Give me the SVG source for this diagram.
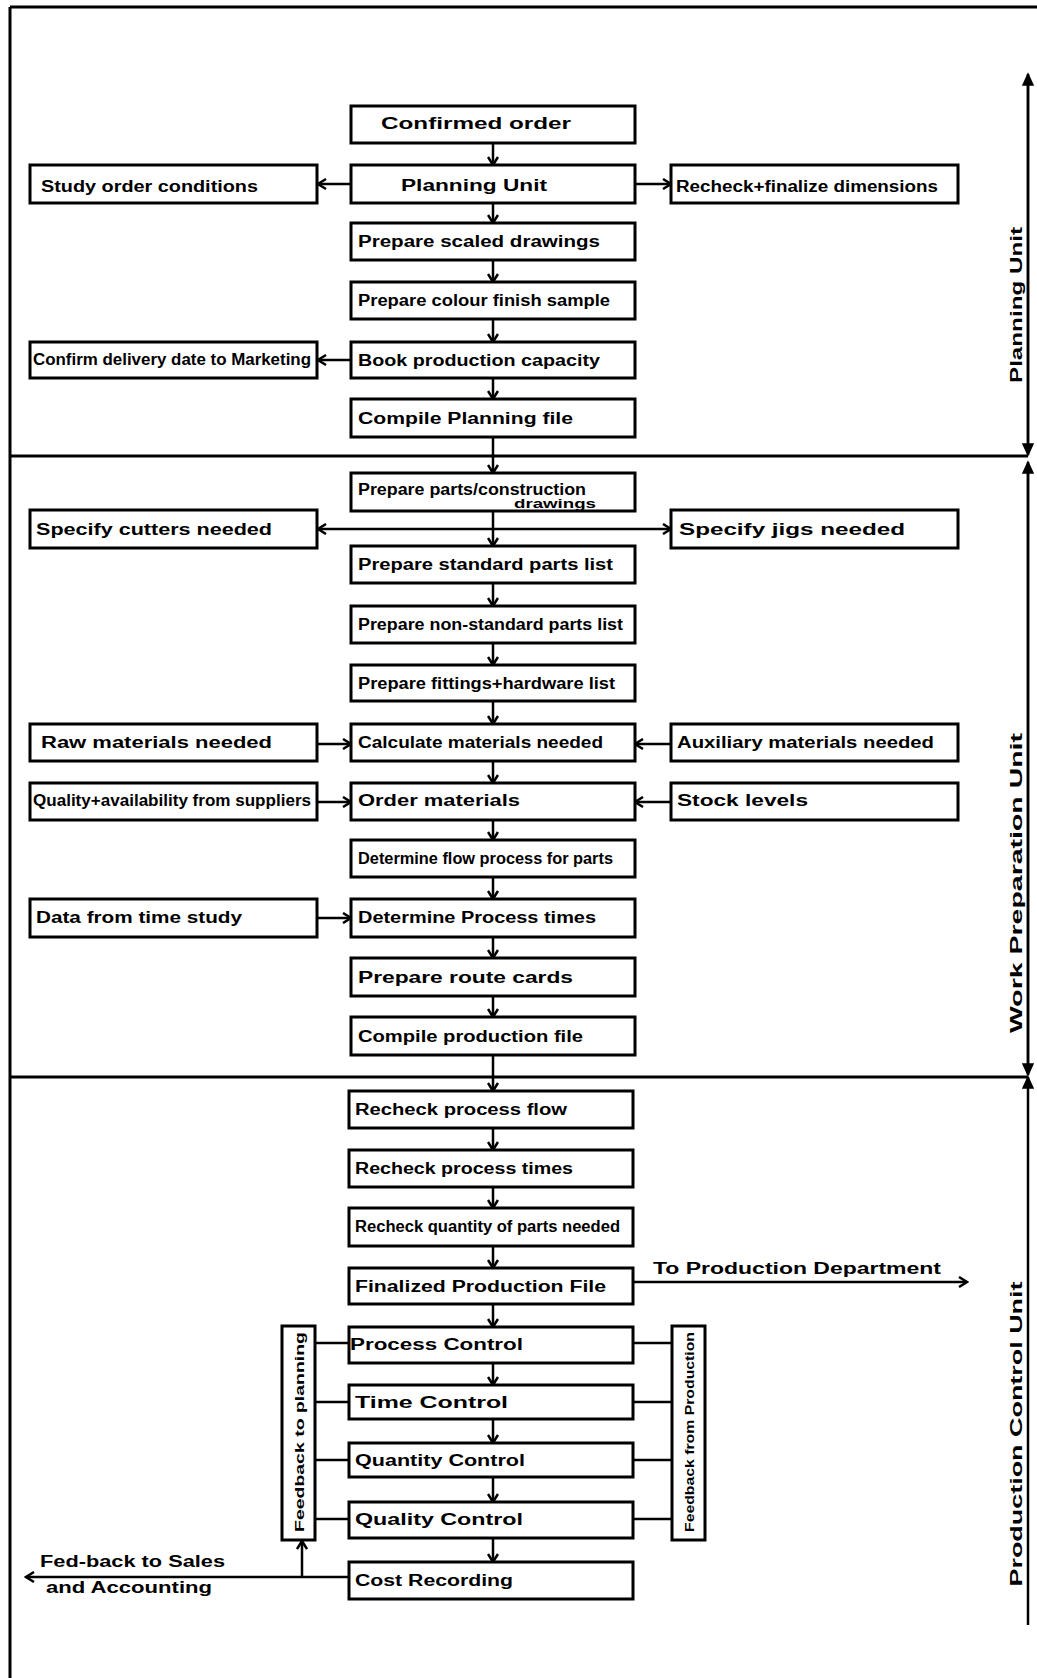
<svg xmlns="http://www.w3.org/2000/svg" width="1037" height="1678" viewBox="0 0 1037 1678">
<style>
.b{fill:#fff;stroke:#000;stroke-width:3}
.t{font-family:"Liberation Sans",Arial,sans-serif;font-size:16px;font-weight:bold;fill:#000}
.s{font-family:"Liberation Sans",Arial,sans-serif;font-size:13px;font-weight:bold;fill:#000}
.c{fill:none;stroke:#000;stroke-width:2.5}
.f{fill:none;stroke:#000;stroke-width:3}
</style>
<defs>
<marker id="a" markerUnits="userSpaceOnUse" markerWidth="12" markerHeight="12" refX="10" refY="6" orient="auto">
<path d="M2,1 L10,6 L2,11" fill="none" stroke="#000" stroke-width="2.5"/>
</marker>
<marker id="h" markerUnits="userSpaceOnUse" markerWidth="14" markerHeight="14" refX="12" refY="7" orient="auto">
<path d="M1,2 L12,7 L1,12 Z" fill="#000" stroke="#000" stroke-width="1.5"/>
</marker>
</defs>

<!-- frame -->
<g id="frame">
<line class="f" x1="10" y1="7" x2="1037" y2="7"/>
<line class="f" x1="10" y1="7" x2="10" y2="1678"/>
<line class="f" x1="10" y1="456" x2="1028" y2="456"/>
<line class="f" x1="10" y1="1077" x2="1028" y2="1077"/>
</g>

<!-- connectors -->
<g id="connectors">
<line class="c" x1="493" y1="143" x2="493" y2="165" marker-end="url(#a)"/>
<line class="c" x1="493" y1="203" x2="493" y2="223" marker-end="url(#a)"/>
<line class="c" x1="493" y1="260" x2="493" y2="282" marker-end="url(#a)"/>
<line class="c" x1="493" y1="319" x2="493" y2="342" marker-end="url(#a)"/>
<line class="c" x1="493" y1="378" x2="493" y2="399" marker-end="url(#a)"/>
<line class="c" x1="493" y1="437" x2="493" y2="473" marker-end="url(#a)"/>
<line class="c" x1="493" y1="511" x2="493" y2="546" marker-end="url(#a)"/>
<line class="c" x1="493" y1="583" x2="493" y2="606" marker-end="url(#a)"/>
<line class="c" x1="493" y1="643" x2="493" y2="665" marker-end="url(#a)"/>
<line class="c" x1="493" y1="701" x2="493" y2="724" marker-end="url(#a)"/>
<line class="c" x1="493" y1="761" x2="493" y2="783" marker-end="url(#a)"/>
<line class="c" x1="493" y1="820" x2="493" y2="840" marker-end="url(#a)"/>
<line class="c" x1="493" y1="877" x2="493" y2="899" marker-end="url(#a)"/>
<line class="c" x1="493" y1="937" x2="493" y2="958" marker-end="url(#a)"/>
<line class="c" x1="493" y1="996" x2="493" y2="1017" marker-end="url(#a)"/>
<line class="c" x1="493" y1="1055" x2="493" y2="1091" marker-end="url(#a)"/>
<line class="c" x1="493" y1="1128" x2="493" y2="1150" marker-end="url(#a)"/>
<line class="c" x1="493" y1="1187" x2="493" y2="1208" marker-end="url(#a)"/>
<line class="c" x1="493" y1="1246" x2="493" y2="1268" marker-end="url(#a)"/>
<line class="c" x1="493" y1="1304" x2="493" y2="1327" marker-end="url(#a)"/>
<line class="c" x1="493" y1="1363" x2="493" y2="1385" marker-end="url(#a)"/>
<line class="c" x1="493" y1="1419" x2="493" y2="1443" marker-end="url(#a)"/>
<line class="c" x1="493" y1="1477" x2="493" y2="1502" marker-end="url(#a)"/>
<line class="c" x1="493" y1="1538" x2="493" y2="1562" marker-end="url(#a)"/>
<!-- side connectors -->
<line class="c" x1="351" y1="184" x2="318" y2="184" marker-end="url(#a)"/>
<line class="c" x1="635" y1="184" x2="671" y2="184" marker-end="url(#a)"/>
<line class="c" x1="351" y1="360" x2="318" y2="360" marker-end="url(#a)"/>
<line class="c" x1="493" y1="529" x2="318" y2="529" marker-end="url(#a)"/>
<line class="c" x1="493" y1="529" x2="671" y2="529" marker-end="url(#a)"/>
<line class="c" x1="317" y1="744" x2="351" y2="744" marker-end="url(#a)"/>
<line class="c" x1="671" y1="744" x2="635" y2="744" marker-end="url(#a)"/>
<line class="c" x1="317" y1="802" x2="351" y2="802" marker-end="url(#a)"/>
<line class="c" x1="671" y1="802" x2="635" y2="802" marker-end="url(#a)"/>
<line class="c" x1="317" y1="918" x2="351" y2="918" marker-end="url(#a)"/>
<line class="c" x1="633" y1="1282" x2="967" y2="1282" marker-end="url(#a)"/>
<!-- feedback links -->
<line class="c" x1="315" y1="1343" x2="349" y2="1343"/>
<line class="c" x1="315" y1="1402" x2="349" y2="1402"/>
<line class="c" x1="315" y1="1460" x2="349" y2="1460"/>
<line class="c" x1="315" y1="1519" x2="349" y2="1519"/>
<line class="c" x1="633" y1="1343" x2="672" y2="1343"/>
<line class="c" x1="633" y1="1402" x2="672" y2="1402"/>
<line class="c" x1="633" y1="1460" x2="672" y2="1460"/>
<line class="c" x1="633" y1="1519" x2="672" y2="1519"/>
<line class="c" x1="349" y1="1577" x2="26" y2="1577" marker-end="url(#a)"/>
<line class="c" x1="302" y1="1577" x2="302" y2="1541" marker-end="url(#a)"/>
<!-- unit scale on right -->
<line class="c" x1="1028" y1="453" x2="1028" y2="74" marker-end="url(#h)"/>
<line class="c" x1="1028" y1="80" x2="1028" y2="455" marker-end="url(#h)"/>
<line class="c" x1="1028" y1="1074" x2="1028" y2="462" marker-end="url(#h)"/>
<line class="c" x1="1028" y1="468" x2="1028" y2="1075" marker-end="url(#h)"/>
<line class="c" x1="1028" y1="1625" x2="1028" y2="1077" marker-end="url(#h)"/>
</g>

<!-- planning unit section -->
<g id="confirmed-order"><rect class="b" x="351" y="106" width="284" height="37"/><text class="t" x="381" y="129" textLength="190" lengthAdjust="spacingAndGlyphs">Confirmed order</text></g>
<g id="planning-unit"><rect class="b" x="351" y="165" width="284" height="38"/><text class="t" x="401" y="191" textLength="146" lengthAdjust="spacingAndGlyphs">Planning Unit</text></g>
<g id="study-order"><rect class="b" x="30" y="165" width="287" height="38"/><text class="t" x="41" y="192" textLength="217" lengthAdjust="spacingAndGlyphs">Study order conditions</text></g>
<g id="recheck-finalize"><rect class="b" x="671" y="165" width="287" height="38"/><text class="t" x="676" y="192" textLength="262" lengthAdjust="spacingAndGlyphs">Recheck+finalize dimensions</text></g>
<g id="scaled-drawings"><rect class="b" x="351" y="223" width="284" height="37"/><text class="t" x="358" y="247" textLength="242" lengthAdjust="spacingAndGlyphs">Prepare scaled drawings</text></g>
<g id="colour-sample"><rect class="b" x="351" y="282" width="284" height="37"/><text class="t" x="358" y="306" textLength="252" lengthAdjust="spacingAndGlyphs">Prepare colour finish sample</text></g>
<g id="book-capacity"><rect class="b" x="351" y="342" width="284" height="36"/><text class="t" x="358" y="366" textLength="242" lengthAdjust="spacingAndGlyphs">Book production capacity</text></g>
<g id="confirm-delivery"><rect class="b" x="30" y="342" width="287" height="36"/><text class="t" x="33" y="365" textLength="278" lengthAdjust="spacingAndGlyphs">Confirm delivery date to Marketing</text></g>
<g id="compile-planning"><rect class="b" x="351" y="399" width="284" height="38"/><text class="t" x="358" y="424" textLength="215" lengthAdjust="spacingAndGlyphs">Compile Planning file</text></g>

<!-- work preparation section -->
<g id="parts-drawings"><rect class="b" x="351" y="473" width="284" height="38"/><text class="t" x="358" y="495" textLength="228" lengthAdjust="spacingAndGlyphs">Prepare parts/construction</text><text class="s" x="514" y="508" textLength="82" lengthAdjust="spacingAndGlyphs">drawings</text></g>
<g id="specify-cutters"><rect class="b" x="30" y="510" width="287" height="38"/><text class="t" x="36" y="535" textLength="236" lengthAdjust="spacingAndGlyphs">Specify cutters needed</text></g>
<g id="specify-jigs"><rect class="b" x="671" y="510" width="287" height="38"/><text class="t" x="679" y="535" textLength="226" lengthAdjust="spacingAndGlyphs">Specify jigs needed</text></g>
<g id="standard-parts"><rect class="b" x="351" y="546" width="284" height="37"/><text class="t" x="358" y="570" textLength="255" lengthAdjust="spacingAndGlyphs">Prepare standard parts list</text></g>
<g id="nonstandard-parts"><rect class="b" x="351" y="606" width="284" height="37"/><text class="t" x="358" y="630" textLength="265" lengthAdjust="spacingAndGlyphs">Prepare non-standard parts list</text></g>
<g id="fittings"><rect class="b" x="351" y="665" width="284" height="36"/><text class="t" x="358" y="689" textLength="257" lengthAdjust="spacingAndGlyphs">Prepare fittings+hardware list</text></g>
<g id="raw-materials"><rect class="b" x="30" y="724" width="287" height="37"/><text class="t" x="41" y="748" textLength="231" lengthAdjust="spacingAndGlyphs">Raw materials needed</text></g>
<g id="calculate-materials"><rect class="b" x="351" y="724" width="284" height="37"/><text class="t" x="358" y="748" textLength="245" lengthAdjust="spacingAndGlyphs">Calculate materials needed</text></g>
<g id="auxiliary-materials"><rect class="b" x="671" y="724" width="287" height="37"/><text class="t" x="677" y="748" textLength="257" lengthAdjust="spacingAndGlyphs">Auxiliary materials needed</text></g>
<g id="quality-availability"><rect class="b" x="30" y="783" width="287" height="37"/><text class="t" x="33" y="806" textLength="278" lengthAdjust="spacingAndGlyphs">Quality+availability from suppliers</text></g>
<g id="order-materials"><rect class="b" x="351" y="783" width="284" height="37"/><text class="t" x="358" y="806" textLength="162" lengthAdjust="spacingAndGlyphs">Order materials</text></g>
<g id="stock-levels"><rect class="b" x="671" y="783" width="287" height="37"/><text class="t" x="677" y="806" textLength="131" lengthAdjust="spacingAndGlyphs">Stock levels</text></g>
<g id="flow-process"><rect class="b" x="351" y="840" width="284" height="37"/><text class="t" x="358" y="864" textLength="255" lengthAdjust="spacingAndGlyphs">Determine flow process for parts</text></g>
<g id="time-study"><rect class="b" x="30" y="899" width="287" height="38"/><text class="t" x="36" y="923" textLength="206" lengthAdjust="spacingAndGlyphs">Data from time study</text></g>
<g id="process-times"><rect class="b" x="351" y="899" width="284" height="38"/><text class="t" x="358" y="923" textLength="238" lengthAdjust="spacingAndGlyphs">Determine Process times</text></g>
<g id="route-cards"><rect class="b" x="351" y="958" width="284" height="38"/><text class="t" x="358" y="983" textLength="215" lengthAdjust="spacingAndGlyphs">Prepare route cards</text></g>
<g id="compile-production"><rect class="b" x="351" y="1017" width="284" height="38"/><text class="t" x="358" y="1042" textLength="225" lengthAdjust="spacingAndGlyphs">Compile production file</text></g>

<!-- production control section -->
<g id="recheck-flow"><rect class="b" x="349" y="1091" width="284" height="37"/><text class="t" x="355" y="1115" textLength="212" lengthAdjust="spacingAndGlyphs">Recheck process flow</text></g>
<g id="recheck-times"><rect class="b" x="349" y="1150" width="284" height="37"/><text class="t" x="355" y="1174" textLength="218" lengthAdjust="spacingAndGlyphs">Recheck process times</text></g>
<g id="recheck-quantity"><rect class="b" x="349" y="1208" width="284" height="38"/><text class="t" x="355" y="1232" textLength="265" lengthAdjust="spacingAndGlyphs">Recheck quantity of parts needed</text></g>
<g id="finalized-file"><rect class="b" x="349" y="1268" width="284" height="36"/><text class="t" x="355" y="1292" textLength="251" lengthAdjust="spacingAndGlyphs">Finalized Production File</text></g>
<g id="to-production"><text class="t" x="653" y="1274" textLength="288" lengthAdjust="spacingAndGlyphs">To Production Department</text></g>
<g id="process-control"><rect class="b" x="349" y="1327" width="284" height="36"/><text class="t" x="350" y="1350" textLength="173" lengthAdjust="spacingAndGlyphs">Process Control</text></g>
<g id="time-control"><rect class="b" x="349" y="1385" width="284" height="34"/><text class="t" x="355" y="1408" textLength="153" lengthAdjust="spacingAndGlyphs">Time Control</text></g>
<g id="quantity-control"><rect class="b" x="349" y="1443" width="284" height="34"/><text class="t" x="355" y="1466" textLength="170" lengthAdjust="spacingAndGlyphs">Quantity Control</text></g>
<g id="quality-control"><rect class="b" x="349" y="1502" width="284" height="36"/><text class="t" x="355" y="1525" textLength="168" lengthAdjust="spacingAndGlyphs">Quality Control</text></g>
<g id="cost-recording"><rect class="b" x="349" y="1562" width="284" height="37"/><text class="t" x="355" y="1586" textLength="158" lengthAdjust="spacingAndGlyphs">Cost Recording</text></g>
<g id="feedback-planning"><rect class="b" x="282" y="1326" width="33" height="214"/><text class="s" transform="translate(304,1432) rotate(-90)" x="0" y="0" text-anchor="middle" textLength="200" lengthAdjust="spacingAndGlyphs">Feedback to planning</text></g>
<g id="feedback-production"><rect class="b" x="672" y="1326" width="33" height="214"/><text class="s" transform="translate(694,1432) rotate(-90)" x="0" y="0" text-anchor="middle" textLength="200" lengthAdjust="spacingAndGlyphs">Feedback from Production</text></g>
<g id="feedback-sales"><text class="t" x="40" y="1567" textLength="185" lengthAdjust="spacingAndGlyphs">Fed-back to Sales</text><text class="t" x="46" y="1593" textLength="166" lengthAdjust="spacingAndGlyphs">and Accounting</text></g>

<!-- unit labels -->
<g id="label-planning"><text class="t" transform="translate(1022,305) rotate(-90)" text-anchor="middle" textLength="156" lengthAdjust="spacingAndGlyphs">Planning Unit</text></g>
<g id="label-work"><text class="t" transform="translate(1022,883) rotate(-90)" text-anchor="middle" textLength="300" lengthAdjust="spacingAndGlyphs">Work Preparation Unit</text></g>
<g id="label-control"><text class="t" transform="translate(1022,1434) rotate(-90)" text-anchor="middle" textLength="305" lengthAdjust="spacingAndGlyphs">Production Control Unit</text></g>
</svg>
